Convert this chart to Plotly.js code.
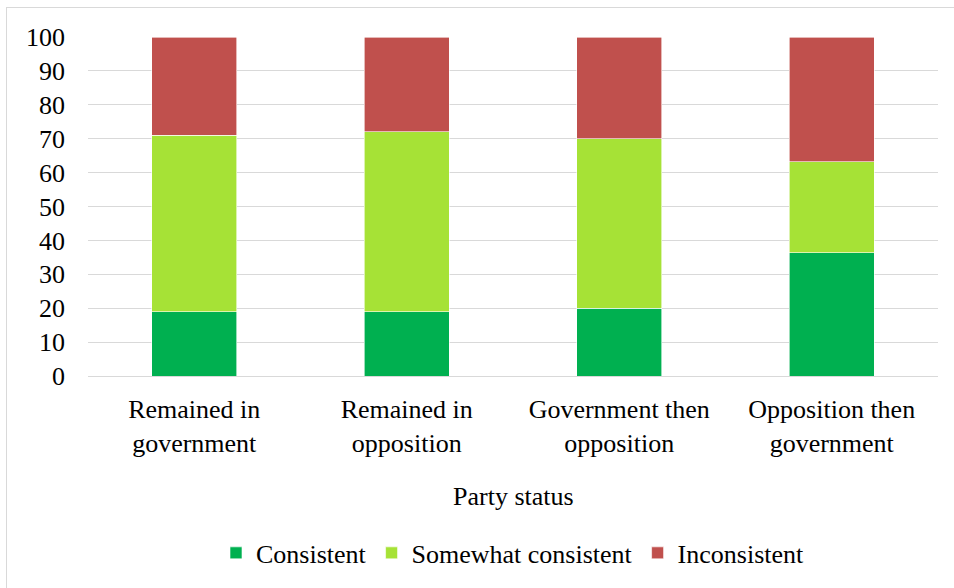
<!DOCTYPE html>
<html><head><meta charset="utf-8">
<script src="https://cdn.plot.ly/plotly-3.0.1.min.js"></script>
<style>body{margin:0;background:#fff}#frame{position:absolute;left:6px;top:7px;width:960px;height:600px;border:1px solid #d9d9d9;box-sizing:border-box}#c{position:absolute;left:0;top:0;width:954px;height:588px}</style>
</head><body><div id="frame"></div><div id="c"></div>
<script>
const categories = ["Remained in<br>government","Remained in<br>opposition","Government then<br>opposition","Opposition then<br>government"];
const consistent = [19, 19, 20, 36.3];
const somewhat = [52, 53, 50, 26.9];
const inconsistent = [29, 28, 30, 36.8];
const seriesNames = ["Consistent","Somewhat consistent","Inconsistent"];
const colors = ["#00b050","#a6e236","#c0504d"];
const vals = [consistent, somewhat, inconsistent];
const data = vals.map((v,i)=>({type:'bar',x:categories,y:v,name:seriesNames[i],marker:{color:colors[i],line:{color:'#ffffff',width:0.6}},hoverinfo:'y'}));
const FONT = 'Liberation Serif, Times New Roman, serif';
const layout = {
  width:954,height:588,barmode:'stack',bargap:0.6,
  paper_bgcolor:'rgba(0,0,0,0)',plot_bgcolor:'rgba(0,0,0,0)',
  margin:{l:88,r:16,t:37,b:209},
  font:{family:FONT,size:26,color:'#000'},
  xaxis:{automargin:false,showgrid:false,showline:true,linecolor:'#d9d9d9',linewidth:1,ticks:'',tickfont:{family:FONT,size:26},ticklabelstandoff:10},
  yaxis:{automargin:false,range:[0,100],dtick:10,showgrid:true,gridcolor:'#d9d9d9',gridwidth:1,zeroline:false,showline:false,ticks:'',tickfont:{family:FONT,size:26},ticklabelstandoff:22},
  annotations:[{text:'Party status',xref:'paper',yref:'paper',x:0.5,y:-0.354,xanchor:'center',yanchor:'middle',showarrow:false,font:{family:FONT,size:26}}],
  legend:{orientation:'h',x:0.5,xanchor:'center',y:-0.522,yanchor:'middle',font:{family:FONT,size:26},traceorder:'normal',itemwidth:30},
  showlegend:true
};
Plotly.newPlot('c',data,layout,{displayModeBar:false,staticPlot:true});
</script></body></html>
